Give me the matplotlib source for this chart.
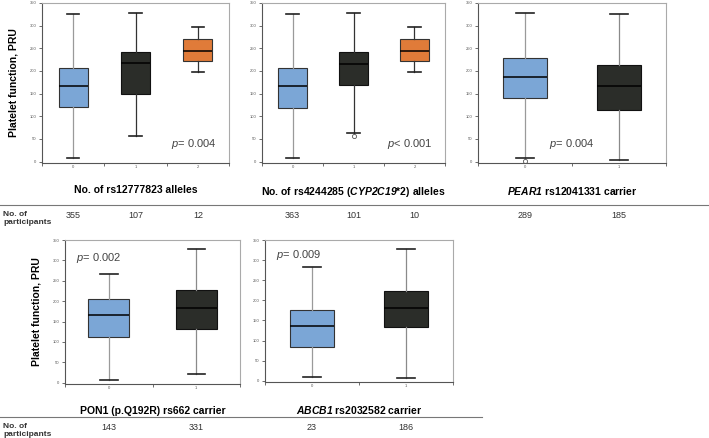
import matplotlib
matplotlib.use("Agg")
import matplotlib.pyplot as plt

plt.rcParams['font.family'] = ['Liberation Sans', 'DejaVu Sans']
plt.rcParams['mathtext.fontset'] = 'custom'
plt.rcParams['mathtext.rm'] = 'Liberation Sans'
plt.rcParams['mathtext.it'] = 'Liberation Sans:italic'
plt.rcParams['mathtext.bf'] = 'Liberation Sans:bold'
plt.rcParams['mathtext.bfit'] = 'Liberation Sans:italic:bold'

# box statistics (PRU)
rs127_q1 = [120, 150, 222]
rs127_med = [167, 217, 245]
rs127_q3 = [207, 241, 270]
rs127_lo = [8, 57, 198]
rs127_hi = [325, 328, 296]
rs127_fliers = [[], [], []]
rs127_n = [355, 107, 12]

cyp_q1 = [118, 170, 222]
cyp_med = [166, 216, 245]
cyp_q3 = [207, 241, 270]
cyp_lo = [8, 64, 198]
cyp_hi = [325, 328, 296]
cyp_fliers = [[], [57], []]
cyp_n = [363, 101, 10]

pear_q1 = [140, 113]
pear_med = [186, 167]
pear_q3 = [229, 214]
pear_lo = [8, 3]
pear_hi = [328, 325]
pear_fliers = [[2], []]
pear_n = [289, 185]

pon_q1 = [113, 131]
pon_med = [165, 183]
pon_q3 = [205, 228]
pon_lo = [8, 22]
pon_hi = [266, 328]
pon_fliers = [[], []]
pon_n = [143, 331]

abcb_q1 = [85, 134]
abcb_med = [137, 181]
abcb_q3 = [175, 224]
abcb_lo = [10, 8]
abcb_hi = [282, 328]
abcb_fliers = [[], []]
abcb_n = [23, 186]

BLUE = '#7BA6D6'
DARK = '#2B2D29'
ORANGE = '#E07B39'
W, H = 709, 438


def make_axes(fig, left, right, top, bottom):
    return fig.add_axes([left / W, 1 - bottom / H, (right - left) / W, (bottom - top) / H])


def draw_panel(ax, q1, med, q3, lo, hi, fliers, colors, xlabel, ptext, pxy, pha):
    stats = []
    for i in range(len(q1)):
        stats.append(dict(q1=q1[i], med=med[i], q3=q3[i], whislo=lo[i],
                          whishi=hi[i], fliers=fliers[i]))
    n = len(stats)
    arts = ax.bxp(stats, positions=range(n), widths=0.47, capwidths=0.2,
                  patch_artist=True, showfliers=True,
                  medianprops=dict(color='black', lw=1.1),
                  flierprops=dict(marker='o', markersize=3, markerfacecolor='white',
                                  markeredgecolor='#555555', markeredgewidth=0.6))
    for i, box in enumerate(arts['boxes']):
        box.set_facecolor(colors[i])
        box.set_edgecolor('#333333' if colors[i] != DARK else '#111111')
        box.set_linewidth(0.8)
        wc = '#9a9a9a' if colors[i] == BLUE else '#333333'
        if colors[i] == DARK and i == n - 1 and n == 2:
            wc = '#8a8a8a'
        for art in arts['whiskers'][2 * i:2 * i + 2]:
            art.set_color(wc)
            art.set_linewidth(0.9)
        for art in arts['caps'][2 * i:2 * i + 2]:
            art.set_color('#222222')
            art.set_linewidth(1.2)
    ax.set_xlim(-0.5, n - 0.5)
    ax.set_ylim(-3, 350)
    ax.set_yticks(range(0, 351, 50))
    ax.set_xticks(range(n))
    ax.set_xticklabels([str(i) for i in range(n)])
    ax.set_xticks([i - 0.5 for i in range(n + 1)], minor=True)
    ax.tick_params(axis='both', which='major', labelsize=3, colors='#555555',
                   length=2.5, width=0.6, direction='out', pad=1.5)
    ax.tick_params(axis='x', which='major', length=0)
    ax.tick_params(axis='x', which='minor', length=2.5, width=0.6, colors='#555555')
    for s in ['left', 'bottom']:
        ax.spines[s].set_color('#555555')
        ax.spines[s].set_linewidth(0.8)
    for s in ['top', 'right']:
        ax.spines[s].set_color('#aaaaaa')
        ax.spines[s].set_linewidth(0.8)
    ax.set_xlabel(xlabel, fontsize=7.5, fontweight='bold', labelpad=10)
    ax.text(pxy[0], pxy[1], ptext, fontsize=8, color='#444444', ha=pha, va='center')


fig = plt.figure(figsize=(W / 100, H / 100), dpi=100)

ax1 = make_axes(fig, 42, 229, 3, 163)
draw_panel(ax1, rs127_q1, rs127_med, rs127_q3, rs127_lo, rs127_hi, rs127_fliers,
           [BLUE, DARK, ORANGE], 'No. of rs12777823 alleles',
           r'$\mathit{p}$= 0.004', (2.3, 40), 'right')
ax1.set_ylabel('Platelet function, PRU', fontsize=7.5, fontweight='bold', labelpad=8)

ax2 = make_axes(fig, 262, 445, 3, 163)
draw_panel(ax2, cyp_q1, cyp_med, cyp_q3, cyp_lo, cyp_hi, cyp_fliers,
           [BLUE, DARK, ORANGE], r'No. of rs4244285 ($\mathbfit{CYP2C19}$*2) alleles',
           r'$\mathit{p}$< 0.001', (2.3, 38), 'right')

ax3 = make_axes(fig, 478, 666, 3, 163)
draw_panel(ax3, pear_q1, pear_med, pear_q3, pear_lo, pear_hi, pear_fliers,
           [BLUE, DARK], r'$\mathbfit{PEAR1}$ rs12041331 carrier',
           r'$\mathit{p}$= 0.004', (0.5, 38), 'center')

ax4 = make_axes(fig, 65, 240, 240, 384)
draw_panel(ax4, pon_q1, pon_med, pon_q3, pon_lo, pon_hi, pon_fliers,
           [BLUE, DARK], 'PON1 (p.Q192R) rs662 carrier',
           r'$\mathit{p}$= 0.002', (-0.38, 306), 'left')
ax4.set_ylabel('Platelet function, PRU', fontsize=7.5, fontweight='bold', labelpad=8)

ax5 = make_axes(fig, 265, 453, 240, 382)
draw_panel(ax5, abcb_q1, abcb_med, abcb_q3, abcb_lo, abcb_hi, abcb_fliers,
           [BLUE, DARK], r'$\mathbfit{ABCB1}$ rs2032582 carrier',
           r'$\mathit{p}$= 0.009', (-0.38, 312), 'left')

# participant rows
fig.add_artist(plt.Line2D([0, 1], [1 - 205 / H] * 2, color='#777777', lw=0.8))
fig.add_artist(plt.Line2D([0, 482 / W], [1 - 417 / H] * 2, color='#777777', lw=0.8))
for yy in [211, 423]:
    fig.text(3 / W, 1 - yy / H, 'No. of\nparticipants', fontsize=6, fontweight='bold',
             color='#333333', va='top', ha='left', linespacing=1.1)

for ax, counts, yy in [(ax1, rs127_n, 211), (ax2, cyp_n, 211), (ax3, pear_n, 211),
                       (ax4, pon_n, 423), (ax5, abcb_n, 423)]:
    for i, c in enumerate(counts):
        xf = fig.transFigure.inverted().transform(ax.transData.transform((i, 0)))[0]
        fig.text(xf, 1 - yy / H, str(c), fontsize=6.5, color='#333333',
                 ha='center', va='top')

fig.savefig('out.png', dpi=100)
